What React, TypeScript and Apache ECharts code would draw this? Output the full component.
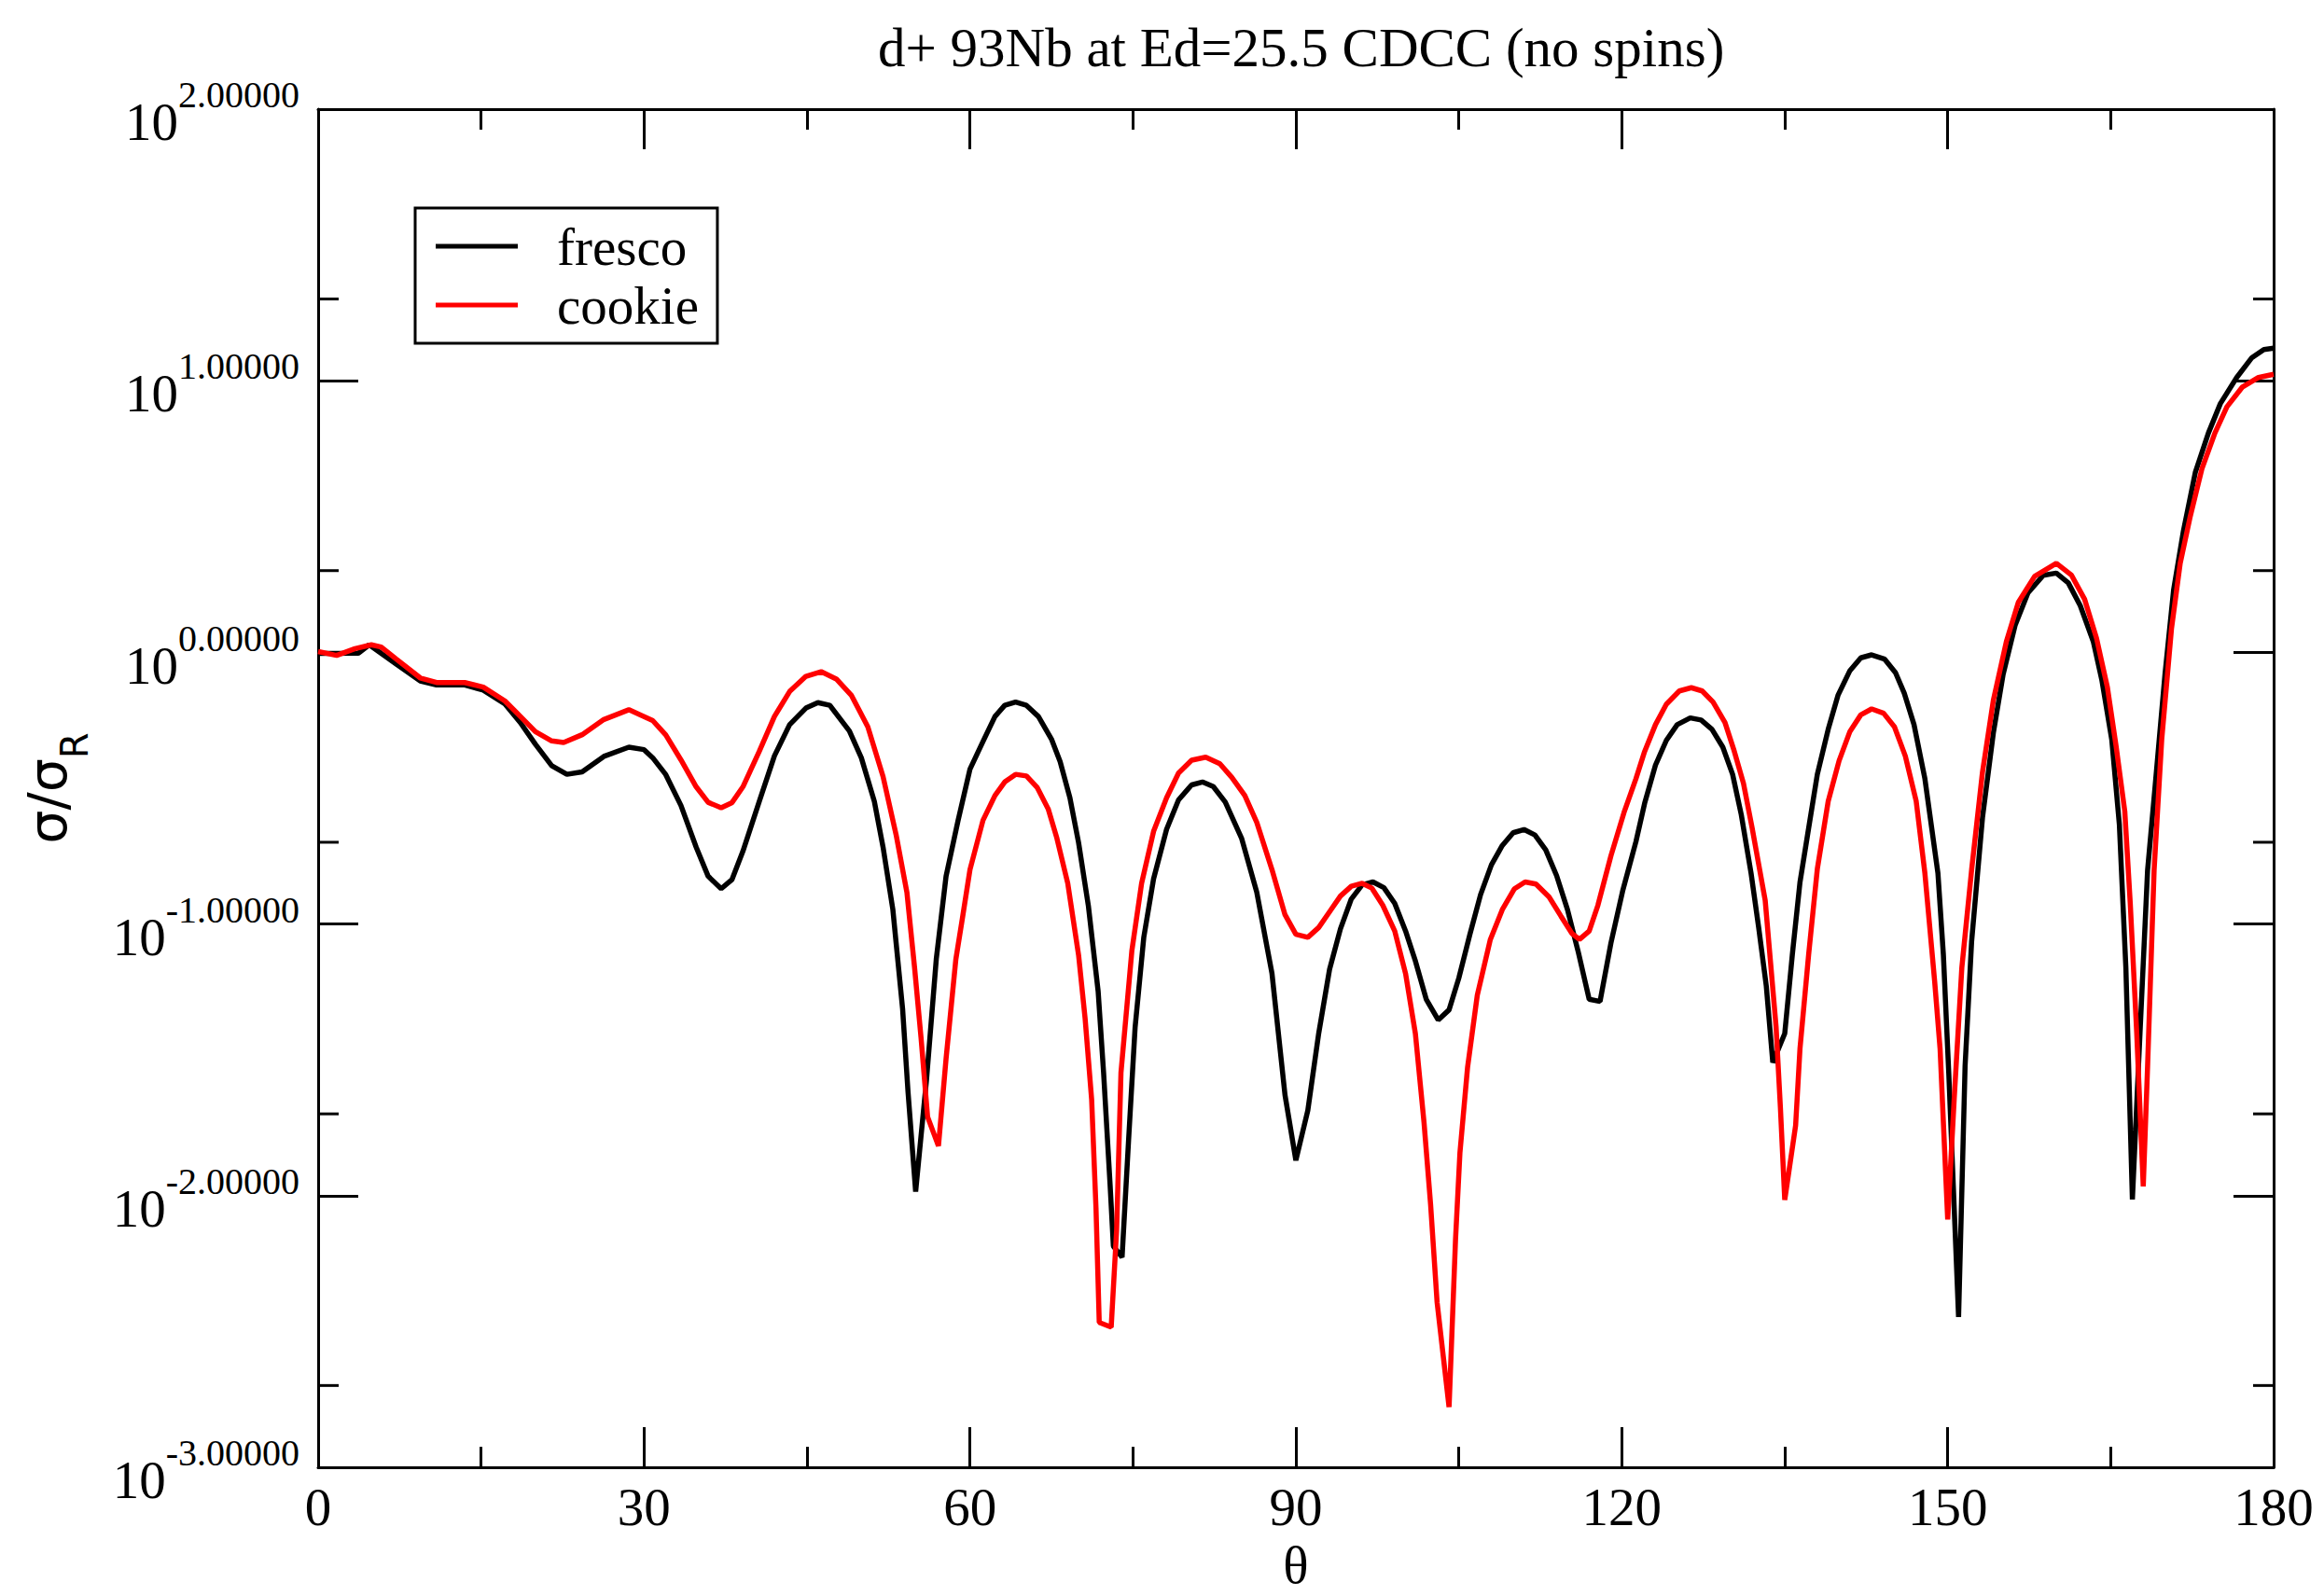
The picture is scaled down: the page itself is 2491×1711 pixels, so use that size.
import React, { useEffect, useRef } from "react";
import * as echarts from "echarts";

const titleText = "d+ 93Nb at Ed=25.5 CDCC (no spins)";
const xAxisName = "θ";
const seriesNames = ["fresco", "cookie"];
const xMin = 0;
const xMax = 180;
const xInterval = 30;
const yMin = 0.001;
const yMax = 100;
// minor ticks of the log axis (xmgrace puts them at 2 x 10^n)
const yMinorTicks = [0.002, 0.02, 0.2, 2, 20];

// fresco (black): angle in degrees and log10(σ/σR)
const frescoAngles = [
  0, 3.7, 4.7, 7.2, 9.4, 10.9, 13.5, 15.2, 17.2, 18.6,
  20.0, 21.5, 22.9, 24.3, 26.3, 28.6, 30.0, 30.8, 32.0, 33.4,
  34.8, 35.9, 37.1, 38.1, 39.1, 40.6, 42.0, 43.4, 44.9, 46.0,
  47.1, 48.9, 50.0, 51.2, 52.0, 52.9, 53.8, 54.3, 55.0, 56.0,
  56.9, 57.8, 58.9, 60.0, 61.2, 62.3, 63.2, 64.2, 65.2, 66.3,
  67.5, 68.3, 69.2, 70.0, 70.9, 71.8, 72.3, 72.9, 73.2, 74.0,
  74.6, 75.2, 76.0, 76.9, 78.1, 79.2, 80.4, 81.4, 82.4, 83.5,
  85.0, 86.4, 87.8, 89.0, 90.0, 91.1, 92.1, 93.1, 94.1, 95.1,
  96.1, 97.1, 98.1, 99.1, 100.1, 101.0, 102.0, 103.1, 104.1, 105.0,
  106.0, 107.0, 108.0, 109.0, 110.0, 111.0, 112.0, 113.0, 114.0, 115.0,
  116.0, 117.0, 118.0, 119.0, 120.1, 121.3, 122.1, 123.1, 124.1, 125.1,
  126.3, 127.3, 128.3, 129.3, 130.2, 131.0, 131.9, 132.6, 133.3, 133.9,
  135.0, 135.7, 136.4, 137.2, 138.0, 139.0, 139.9, 141.0, 142.0, 143.0,
  144.2, 145.2, 146.0, 146.9, 147.9, 149.1, 149.6, 150.1, 151.0, 151.6,
  152.2, 153.2, 154.2, 155.1, 156.2, 157.4, 158.8, 160.0, 161.1, 162.2,
  163.4, 164.2, 165.1, 165.8, 166.4, 167.0, 167.7, 168.4, 169.1, 170.0,
  170.8, 171.7, 172.8, 174.0, 175.1, 176.6, 178.0, 179.1, 180.0,
];
const frescoLog10 = [
  -0.004, -0.003, 0.028, -0.043, -0.105, -0.12, -0.12, -0.139, -0.19, -0.258,
  -0.338, -0.417, -0.449, -0.44, -0.383, -0.349, -0.358, -0.388, -0.45, -0.564,
  -0.717, -0.824, -0.87, -0.836, -0.732, -0.549, -0.381, -0.266, -0.205, -0.185,
  -0.195, -0.289, -0.388, -0.549, -0.717, -0.946, -1.313, -1.619, -1.985, -1.573,
  -1.129, -0.824, -0.62, -0.43, -0.328, -0.236, -0.195, -0.183, -0.195, -0.236,
  -0.319, -0.402, -0.535, -0.701, -0.933, -1.248, -1.547, -1.961, -2.186, -2.227,
  -1.796, -1.381, -1.049, -0.834, -0.651, -0.543, -0.488, -0.477, -0.494, -0.551,
  -0.684, -0.883, -1.182, -1.63, -1.87, -1.686, -1.403, -1.167, -1.018, -0.908,
  -0.856, -0.845, -0.866, -0.924, -1.026, -1.136, -1.277, -1.353, -1.316, -1.199,
  -1.041, -0.892, -0.782, -0.711, -0.664, -0.652, -0.672, -0.727, -0.822, -0.947,
  -1.104, -1.277, -1.285, -1.07, -0.875, -0.697, -0.556, -0.415, -0.324, -0.266,
  -0.241, -0.249, -0.283, -0.349, -0.449, -0.598, -0.813, -1.013, -1.228, -1.51,
  -1.403, -1.112, -0.847, -0.647, -0.449, -0.283, -0.158, -0.067, -0.02, -0.009,
  -0.025, -0.075, -0.15, -0.266, -0.465, -0.813, -1.112, -1.55, -2.447, -1.522,
  -1.065, -0.609, -0.297, -0.081, 0.099, 0.22, 0.284, 0.292, 0.256, 0.172,
  0.04, -0.104, -0.321, -0.633, -1.161, -2.014, -1.402, -0.801, -0.489, -0.081,
  0.232, 0.448, 0.664, 0.808, 0.916, 1.012, 1.085, 1.115, 1.12,
];

// cookie (red)
const cookieAngles = [
  0, 1.7, 3.4, 4.9, 5.8, 7.2, 9.4, 10.9, 13.5, 15.2,
  17.2, 18.6, 20.0, 21.5, 22.6, 24.3, 26.3, 28.6, 30.8, 32.0,
  33.4, 34.8, 35.9, 37.1, 38.1, 39.1, 40.6, 42.0, 43.4, 44.9,
  46.3, 47.7, 49.1, 50.6, 52.0, 53.2, 54.2, 54.9, 55.5, 56.1,
  57.1, 57.8, 58.7, 59.3, 60.0, 61.2, 62.3, 63.2, 64.2, 65.2,
  66.2, 67.2, 68.0, 69.0, 70.0, 70.6, 71.2, 71.6, 71.9, 73.0,
  73.5, 73.9, 74.9, 75.8, 76.9, 78.1, 79.2, 80.4, 81.7, 83.0,
  84.1, 85.3, 86.4, 87.8, 89.0, 90.0, 91.1, 92.1, 93.1, 94.1,
  95.1, 96.1, 97.0, 98.0, 99.1, 100.1, 101.0, 101.8, 102.4, 103.0,
  104.1, 104.7, 105.1, 105.8, 106.7, 107.9, 109.0, 110.1, 111.1, 112.1,
  113.3, 114.4, 115.4, 116.1, 117.0, 117.8, 119.0, 120.2, 121.3, 122.1,
  123.1, 124.1, 125.3, 126.4, 127.4, 128.4, 129.5, 130.3, 131.2, 132.0,
  133.2, 133.7, 134.2, 134.6, 135.0, 136.0, 136.4, 137.2, 138.0, 139.0,
  140.0, 141.0, 142.0, 143.0, 144.1, 145.1, 146.1, 147.1, 147.9, 148.8,
  149.3, 150.0, 150.6, 151.3, 152.2, 153.2, 154.2, 155.4, 156.5, 158.0,
  160.0, 161.4, 162.6, 163.7, 164.7, 165.5, 166.3, 166.8, 167.4, 168.0,
  168.4, 169.0, 169.7, 170.6, 171.4, 172.3, 173.4, 174.6, 175.7, 177.1,
  178.6, 180.0,
];
const cookieLog10 = [
  0.003, -0.011, 0.014, 0.028, 0.02, -0.025, -0.094, -0.111, -0.111, -0.128,
  -0.179, -0.235, -0.292, -0.326, -0.332, -0.303, -0.247, -0.211, -0.251, -0.304,
  -0.396, -0.495, -0.552, -0.572, -0.553, -0.495, -0.365, -0.236, -0.144, -0.088,
  -0.071, -0.098, -0.159, -0.274, -0.457, -0.671, -0.885, -1.16, -1.42, -1.71,
  -1.817, -1.496, -1.13, -0.98, -0.8, -0.618, -0.527, -0.477, -0.449, -0.455,
  -0.498, -0.576, -0.684, -0.85, -1.115, -1.348, -1.646, -2.045, -2.467, -2.484,
  -2.127, -1.547, -1.099, -0.85, -0.659, -0.535, -0.444, -0.397, -0.386, -0.41,
  -0.46, -0.527, -0.626, -0.8, -0.966, -1.038, -1.049, -1.013, -0.955, -0.897,
  -0.861, -0.85, -0.868, -0.931, -1.026, -1.183, -1.403, -1.733, -2.032, -2.393,
  -2.778, -2.157, -1.843, -1.529, -1.262, -1.057, -0.947, -0.871, -0.845, -0.853,
  -0.9, -0.971, -1.034, -1.057, -1.026, -0.931, -0.749, -0.59, -0.465, -0.365,
  -0.266, -0.191, -0.142, -0.13, -0.142, -0.183, -0.258, -0.357, -0.482, -0.647,
  -0.913, -1.145, -1.377, -1.676, -2.016, -1.742, -1.46, -1.112, -0.797, -0.548,
  -0.399, -0.291, -0.23, -0.208, -0.224, -0.274, -0.382, -0.548, -0.813, -1.212,
  -1.46, -2.088, -1.642, -1.161, -0.801, -0.441, -0.177, 0.04, 0.184, 0.28,
  0.328, 0.284, 0.196, 0.052, -0.129, -0.345, -0.585, -0.921, -1.402, -1.966,
  -1.522, -0.801, -0.321, 0.088, 0.328, 0.496, 0.676, 0.808, 0.904, 0.976,
  1.012, 1.024,
];

const SERIF = "'Liberation Serif', 'Times New Roman', serif";
const SANS = "'DejaVu Sans', sans-serif";

const toPairs = (angles: number[], logs: number[]) =>
  angles.map((a, i) => [a, Math.pow(10, logs[i])]);

export default function App() {
  const ref = useRef<HTMLDivElement>(null);

  useEffect(() => {
    document.body.style.margin = "0";
    const chart = echarts.init(ref.current!, null, { renderer: "svg" });

    const axisLineStyle = { color: "#000", width: 3 };
    const curveWidth = 5.5;

    const option: any = {
      animation: false,
      backgroundColor: "#fff",
      title: {
        text: titleText,
        left: 936,
        top: 16,
        textStyle: {
          fontFamily: SERIF,
          fontSize: 59,
          fontWeight: "normal",
          color: "#000",
        },
      },
      legend: {
        data: seriesNames,
        orient: "vertical",
        left: 445,
        top: 223,
        padding: [11, 20, 11, 22],
        itemGap: 3,
        itemWidth: 88,
        itemHeight: 5,
        icon: "rect",
        backgroundColor: "#fff",
        borderColor: "#000",
        borderWidth: 3,
        borderRadius: 0,
        textStyle: {
          fontFamily: SERIF,
          fontSize: 57,
          color: "#000",
          lineHeight: 60,
          padding: [0, 0, 0, 37],
        },
      },
      grid: {
        left: 341,
        right: 54,
        top: 117,
        bottom: 126,
        containLabel: false,
      },
      xAxis: [
        {
          type: "value",
          min: xMin,
          max: xMax,
          interval: xInterval,
          position: "bottom",
          name: xAxisName,
          nameLocation: "middle",
          nameGap: 76,
          nameTextStyle: { fontFamily: SERIF, fontSize: 57, color: "#000" },
          axisLine: { show: true, onZero: false, lineStyle: axisLineStyle },
          axisTick: { show: true, inside: true, length: 43, lineStyle: axisLineStyle },
          minorTick: { show: true, splitNumber: 2, length: 22, lineStyle: axisLineStyle },
          axisLabel: {
            show: true,
            margin: 14,
            fontFamily: SERIF,
            fontSize: 57,
            color: "#000",
          },
          splitLine: { show: false },
          minorSplitLine: { show: false },
        },
        {
          type: "value",
          min: xMin,
          max: xMax,
          interval: xInterval,
          position: "top",
          axisLine: { show: true, onZero: false, lineStyle: axisLineStyle },
          axisTick: { show: true, inside: true, length: 43, lineStyle: axisLineStyle },
          minorTick: { show: true, splitNumber: 2, length: 22, lineStyle: axisLineStyle },
          axisLabel: { show: false },
          splitLine: { show: false },
        },
      ],
      yAxis: [
        {
          type: "log",
          logBase: 10,
          min: yMin,
          max: yMax,
          position: "left",
          name: "{a|σ/σ}{b|R}",
          nameLocation: "middle",
          nameRotate: 90,
          nameGap: 241,
          nameTextStyle: {
            rich: {
              a: { fontFamily: SANS, fontSize: 57, lineHeight: 57, verticalAlign: "top", color: "#000" },
              b: { fontFamily: SANS, fontSize: 40, lineHeight: 78, verticalAlign: "bottom", color: "#000" },
            },
          },
          axisLine: { show: true, onZero: false, lineStyle: axisLineStyle },
          axisTick: { show: true, inside: true, length: 43, lineStyle: axisLineStyle },
          axisLabel: {
            show: true,
            margin: 20,
            padding: [7, 0, 0, 0],
            formatter: (v: number) => {
              const e = Math.round(Math.log10(v));
              return `{b|10}{s|${e.toFixed(5)}}`;
            },
            rich: {
              b: { fontFamily: SERIF, fontSize: 57, lineHeight: 57, verticalAlign: "bottom", color: "#000" },
              s: { fontFamily: SERIF, fontSize: 40, lineHeight: 77.5, verticalAlign: "top", color: "#000" },
            },
          },
          splitLine: { show: false },
        },
        {
          type: "log",
          logBase: 10,
          min: yMin,
          max: yMax,
          position: "right",
          axisLine: { show: true, onZero: false, lineStyle: axisLineStyle },
          axisTick: { show: true, inside: true, length: 43, lineStyle: axisLineStyle },
          axisLabel: { show: false },
          splitLine: { show: false },
        },
      ],
      series: [
        {
          name: seriesNames[0],
          type: "line",
          xAxisIndex: 0,
          yAxisIndex: 0,
          data: toPairs(frescoAngles, frescoLog10),
          symbol: "none",
          showSymbol: false,
          smooth: false,
          clip: true,
          color: "#000000",
          itemStyle: { color: "#000000" },
          lineStyle: { color: "#000000", width: curveWidth },
          emphasis: { disabled: true },
          silent: true,
        },
        {
          name: seriesNames[1],
          type: "line",
          xAxisIndex: 0,
          yAxisIndex: 0,
          data: toPairs(cookieAngles, cookieLog10),
          symbol: "none",
          showSymbol: false,
          smooth: false,
          clip: true,
          color: "#ff0000",
          itemStyle: { color: "#ff0000" },
          lineStyle: { color: "#ff0000", width: curveWidth },
          emphasis: { disabled: true },
          silent: true,
        },
        {
          name: "yMinorTicks",
          type: "custom",
          xAxisIndex: 0,
          yAxisIndex: 0,
          silent: true,
          clip: false,
          data: yMinorTicks.map((v) => [xMin, v]),
          renderItem: (_params: any, api: any) => {
            const v = api.value(1);
            const l = api.coord([xMin, v]);
            const r = api.coord([xMax, v]);
            const st = { stroke: "#000", lineWidth: 3 };
            return {
              type: "group",
              children: [
                { type: "line", shape: { x1: l[0], y1: l[1], x2: l[0] + 22, y2: l[1] }, style: st },
                { type: "line", shape: { x1: r[0] - 22, y1: r[1], x2: r[0], y2: r[1] }, style: st },
              ],
            };
          },
        },
      ],
    };

    chart.setOption(option);
    return () => chart.dispose();
  }, []);

  return <div ref={ref} style={{ width: 2491, height: 1711 }} />;
}
